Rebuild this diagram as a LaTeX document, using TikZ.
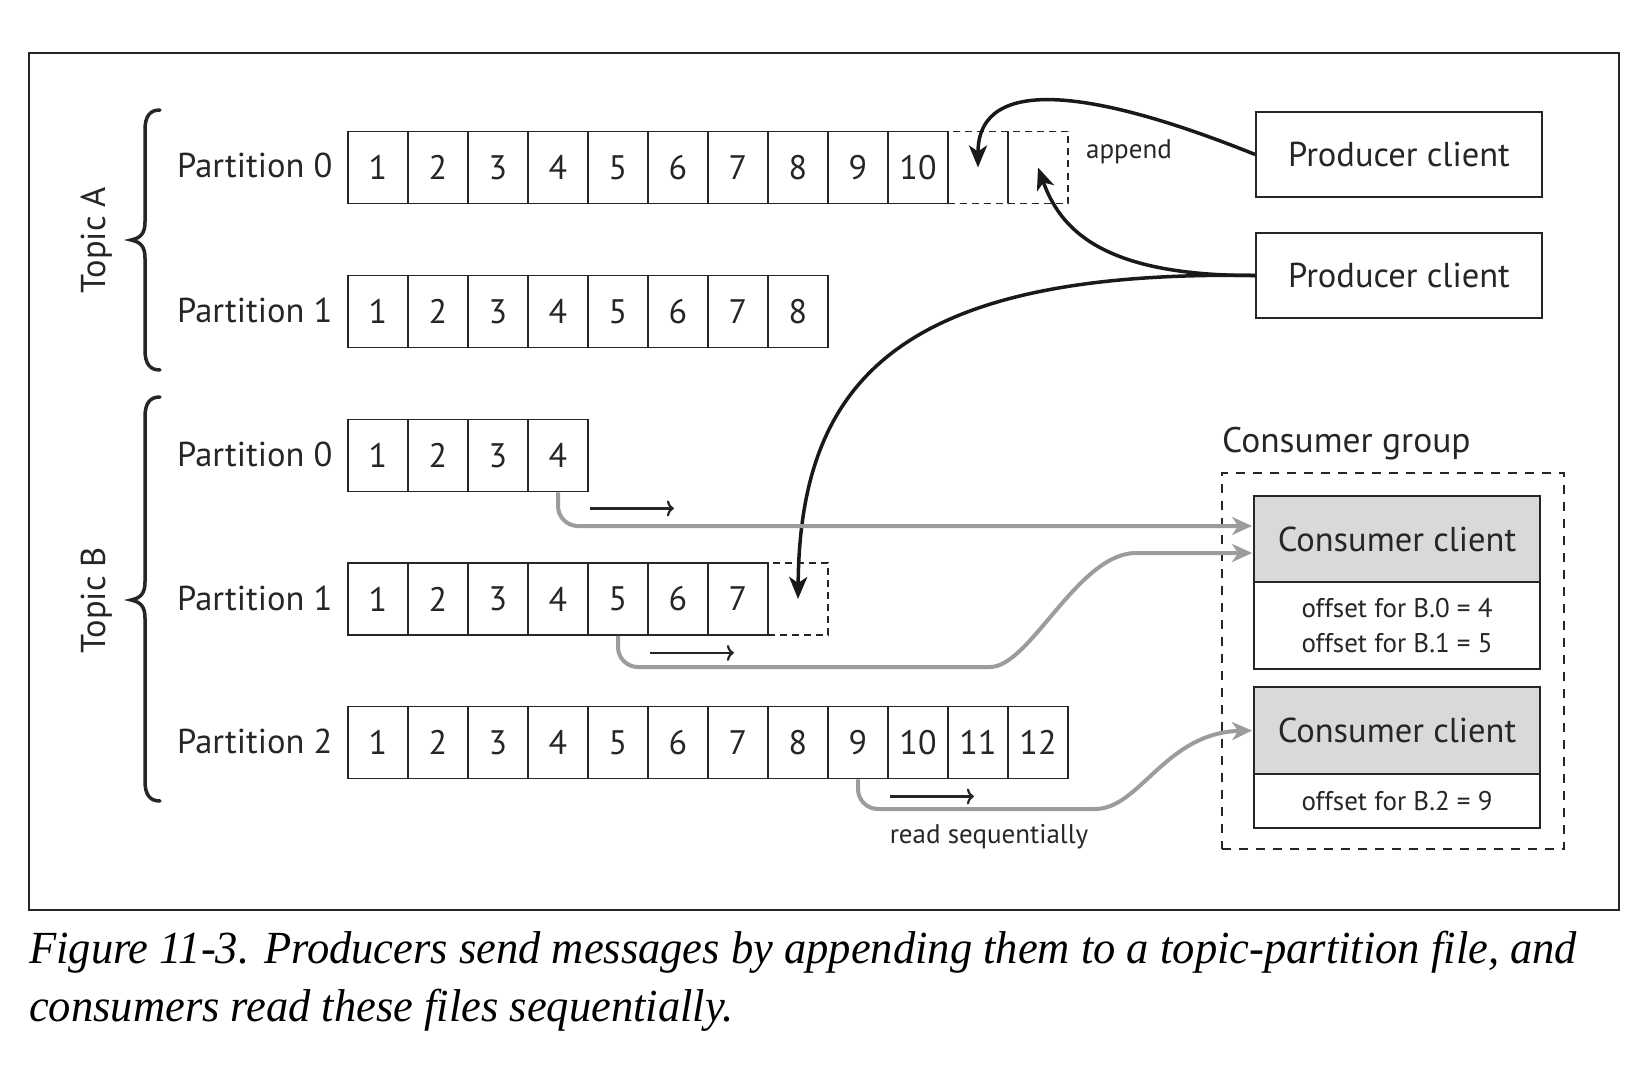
\documentclass[tikz,border=0pt]{standalone}
\usepackage{graphicx}
\usepackage{fontspec}
\setmainfont{PT Sans}
\newfontfamily\capfont{Liberation Serif}
\usetikzlibrary{arrows.meta,calc}
\definecolor{ink}{HTML}{262626}
\definecolor{readgray}{HTML}{9C9C9C}
\definecolor{hdrgray}{HTML}{D9D9D9}
\newlength\capwidth
\newcommand\capfontsel{\capfont\itshape\fontsize{46}{54}\selectfont}
\newcommand\capone{Figure 11-3. Producers send messages by appending them to a topic-partition file, and}
\newcommand\captwo{consumers read these files sequentially.}
\newcommand\capscale{1}
\begin{document}
\begin{tikzpicture}[x=1pt,y=-1pt,
  lbl/.style={inner sep=0pt, text=ink, font=\fontsize{34.5}{40}\selectfont},
  smalllbl/.style={inner sep=0pt, text=ink, font=\fontsize{27}{34}\selectfont},
  cell/.style={draw=ink, line width=1.8pt, minimum width=60pt, minimum height=72pt, inner sep=0pt, text=ink, font=\fontsize{34}{40}\selectfont},
  newcell/.style={cell, dash pattern=on 7pt off 5pt},
  box/.style={draw=ink, line width=1.8pt, minimum width=286pt, inner sep=0pt, text=ink, font=\fontsize{34.5}{40}\selectfont},
  offsetbox/.style={box, align=center, font=\fontsize{27}{35}\selectfont},
  groupbox/.style={draw=ink, line width=1.6pt, dash pattern=on 9pt off 8pt, minimum width=342pt, minimum height=376pt, inner sep=0pt},
  brace/.style={draw=ink, line width=3.5pt, line cap=round},
  prodarrow/.style={draw=black!90, line width=3.5pt, -{Stealth[length=22pt,width=18pt,inset=6pt]}},
  readarrow/.style={draw=readgray, line width=4pt, -{Stealth[length=20pt,width=18pt,inset=6pt]}},
  seqarrow/.style={draw=ink, line width=2.2pt, -{To[length=7pt,width=16pt]}},
]
% canvas
\path[fill=white, use as bounding box] (0,0) rectangle (1644,1070);
\draw[ink, line width=1.5pt] (29,53) rectangle (1619,910);

% new (dashed) cells first
\node[newcell] (a0c11) at (978,167.5) {};
\node[newcell] (a0c12) at (1038,167.5) {};
\node[newcell] (b1c8) at (798,599) {};

% log cells
\foreach \row/\yc/\n in {a0/167.5/10, a1/311.5/8, b0/455.5/4, b1/599/7, b2/742.5/12} {
  \foreach \i in {1,...,\n}
    \node[cell] (\row c\i) at (318+60*\i, \yc) {\i};
}

% partition labels
\node[lbl, anchor=base west] (pa0) at (177,178) {Partition 0};
\node[lbl, anchor=base west] (pa1) at (177,322) {Partition 1};
\node[lbl, anchor=base west] (pb0) at (177,466) {Partition 0};
\node[lbl, anchor=base west] (pb1) at (177,610) {Partition 1};
\node[lbl, anchor=base west] (pb2) at (177,753) {Partition 2};

% topic labels and braces
\node[lbl, rotate=90] (ta) at (97,240) {Topic A};
\node[lbl, rotate=90] (tb) at (97,600) {Topic B};
\path[brace] (160,110) .. controls (150,110) and (145,116) .. (145,130) -- (145,222) .. controls (145,233) and (141,238) .. (131,240) .. controls (141,242) and (145,247) .. (145,258) -- (145,350) .. controls (145,364) and (150,370) .. (160,370);
\path[brace] (160,397) .. controls (150,397) and (145,403) .. (145,417) -- (145,582) .. controls (145,593) and (141,598) .. (131,600) .. controls (141,602) and (145,607) .. (145,618) -- (145,781) .. controls (145,795) and (150,801) .. (160,801);

% producers
\node[box, minimum height=85pt] (p1) at (1399,154.5) {Producer client};
\node[box, minimum height=85pt] (p2) at (1399,275.5) {Producer client};
\node[smalllbl, anchor=base west] (app) at (1086,158) {append};

% consumer group
\node[groupbox] (grp) at (1393,661) {};
\node[lbl, anchor=base west, font=\fontsize{35.5}{40}\selectfont] (grplbl) at (1222,452) {Consumer group};
\node[box, fill=hdrgray, minimum height=86pt] (c1h) at (1397,539) {Consumer client};
\node[offsetbox, minimum height=87pt] (c1b) at (1397,625.5) {offset for B.0 = 4\\offset for B.1 = 5};
\node[box, fill=hdrgray, minimum height=87pt] (c2h) at (1397,730.5) {Consumer client};
\node[offsetbox, minimum height=54pt] (c2b) at (1397,801) {offset for B.2 = 9};

% producer arrows
\path[prodarrow] (p1.west) .. controls (1100,92) and (978,72) .. (a0c11.center);
\path[prodarrow] (p2.west) .. controls (1100,276) and (1060,228) .. (a0c12.center);
\path[prodarrow] (p2.west) .. controls (900,270) and (800,380) .. (b1c8.center);

% consumer read arrows
\path[readarrow] (b0c4.south) [rounded corners=20pt] |- ($(c1h.west)+(-1,-13)$);
\path[readarrow] (b1c5.south) [rounded corners=20pt] |- (970,667) [sharp corners] .. controls (1030,667) and (1078,553) .. (1136,553) -- ($(c1h.west)+(-1,14)$);
\path[readarrow] (b2c9.south) [rounded corners=20pt] |- (1075,809) [sharp corners] .. controls (1140,809) and (1165,733) .. ($(c2h.west)+(-1,0)$);

% sequential arrows
\path[seqarrow] ($(b0c4.south east)+(1,16)$) -- ++(84,0);
\path[seqarrow] ($(b1c5.south east)+(1,17)$) -- ++(84,0);
\path[seqarrow] ($(b2c9.south east)+(1,17)$) -- ++(84,0);
\node[smalllbl, anchor=base] (rs) at (989,843) {read sequentially};

% caption
\node[anchor=base west, inner sep=0pt] (cap1) at (29,963) {\settowidth\capwidth{\capfontsel\capone}\xdef\capscale{\fpeval{1548/(\the\capwidth)}}\scalebox{\capscale}[1]{\capfontsel\capone}};
\node[anchor=base west, inner sep=0pt] (cap2) at (29,1021) {\scalebox{\capscale}[1]{\capfontsel\captwo}};
\end{tikzpicture}
\end{document}
